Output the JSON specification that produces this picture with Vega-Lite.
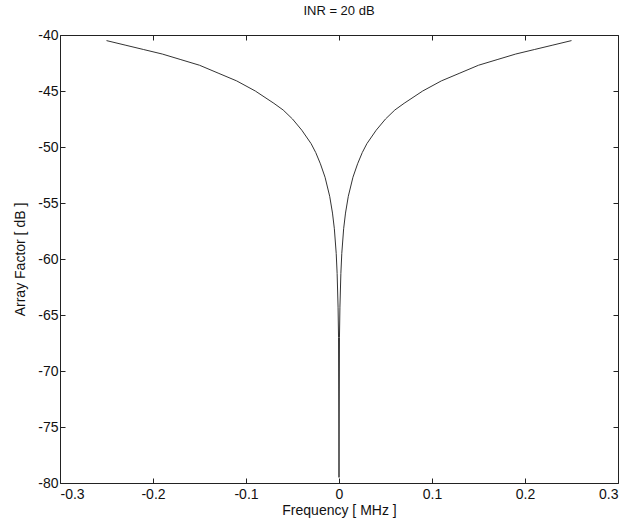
{
  "$schema": "https://vega.github.io/schema/vega-lite/v6.json",
  "width": 558,
  "height": 448,
  "autosize": "none",
  "padding": {"left": 60, "top": 35, "right": 12, "bottom": 45},
  "background": "white",
  "title": {"text": "INR = 20 dB", "font": "Liberation Sans", "fontSize": 13, "fontWeight": "normal", "color": "#111", "offset": 10},
  "config": {
    "view": {"stroke": "#222", "strokeWidth": 1},
    "axis": {"grid": false, "domain": false, "tickSize": -5, "tickColor": "#222", "labelFont": "Liberation Sans", "labelFontSize": 14, "labelColor": "#111", "titleFont": "Liberation Sans", "titleFontSize": 14, "titleFontWeight": "normal", "titleColor": "#111"}
  },
  "data": {"values": [
    {"f": -0.25, "af": -40.5}, {"f": -0.23, "af": -40.9}, {"f": -0.21, "af": -41.3}, {"f": -0.19, "af": -41.7},
    {"f": -0.17, "af": -42.2}, {"f": -0.15, "af": -42.7}, {"f": -0.13, "af": -43.4}, {"f": -0.11, "af": -44.1},
    {"f": -0.09, "af": -45.0}, {"f": -0.07, "af": -46.1}, {"f": -0.06, "af": -46.7}, {"f": -0.05, "af": -47.5},
    {"f": -0.04, "af": -48.5}, {"f": -0.03, "af": -49.7}, {"f": -0.025, "af": -50.5}, {"f": -0.02, "af": -51.5},
    {"f": -0.015, "af": -52.7}, {"f": -0.01, "af": -54.4}, {"f": -0.007, "af": -55.9}, {"f": -0.005, "af": -57.3},
    {"f": -0.003, "af": -59.5}, {"f": -0.002, "af": -61.3}, {"f": -0.001, "af": -64.3}, {"f": -0.0005, "af": -67.0},
    {"f": 0, "af": -79.5},
    {"f": 0.0005, "af": -67.0}, {"f": 0.001, "af": -64.3}, {"f": 0.002, "af": -61.3}, {"f": 0.003, "af": -59.5},
    {"f": 0.005, "af": -57.3}, {"f": 0.007, "af": -55.9}, {"f": 0.01, "af": -54.4}, {"f": 0.015, "af": -52.7},
    {"f": 0.02, "af": -51.5}, {"f": 0.025, "af": -50.5}, {"f": 0.03, "af": -49.7}, {"f": 0.04, "af": -48.5},
    {"f": 0.05, "af": -47.5}, {"f": 0.06, "af": -46.7}, {"f": 0.07, "af": -46.1}, {"f": 0.09, "af": -45.0},
    {"f": 0.11, "af": -44.1}, {"f": 0.13, "af": -43.4}, {"f": 0.15, "af": -42.7}, {"f": 0.17, "af": -42.2},
    {"f": 0.19, "af": -41.7}, {"f": 0.21, "af": -41.3}, {"f": 0.23, "af": -40.9}, {"f": 0.25, "af": -40.5}
  ]},
  "layer": [
    {
      "mark": {"type": "line", "color": "#333", "strokeWidth": 1, "clip": true},
      "encoding": {
        "x": {"field": "f", "type": "quantitative", "scale": {"domain": [-0.3, 0.3], "nice": false, "zero": false},
          "axis": {"orient": "bottom", "title": "Frequency [ MHz ]", "values": [-0.3, -0.2, -0.1, 0, 0.1, 0.2, 0.3], "labelExpr": "datum.value == 0 ? '0' : replace(format(datum.value, '.1f'), '\u2212', '-')", "labelPadding": 9, "titlePadding": 2}},
        "y": {"field": "af", "type": "quantitative", "scale": {"domain": [-80, -40], "nice": false, "zero": false},
          "axis": {"orient": "left", "title": "Array Factor [ dB ]", "values": [-80, -75, -70, -65, -60, -55, -50, -45, -40], "labelExpr": "replace(format(datum.value, 'd'), '\u2212', '-')", "labelPadding": 7, "titlePadding": 10}}
      }
    },
    {
      "mark": {"type": "line", "opacity": 0},
      "encoding": {
        "x": {"field": "f", "type": "quantitative", "axis": {"orient": "top", "title": null, "labels": false, "values": [-0.3, -0.2, -0.1, 0, 0.1, 0.2, 0.3]}},
        "y": {"field": "af", "type": "quantitative", "axis": {"orient": "right", "title": null, "labels": false, "values": [-80, -75, -70, -65, -60, -55, -50, -45, -40]}}
      }
    }
  ],
  "resolve": {"axis": {"x": "independent", "y": "independent"}}
}
